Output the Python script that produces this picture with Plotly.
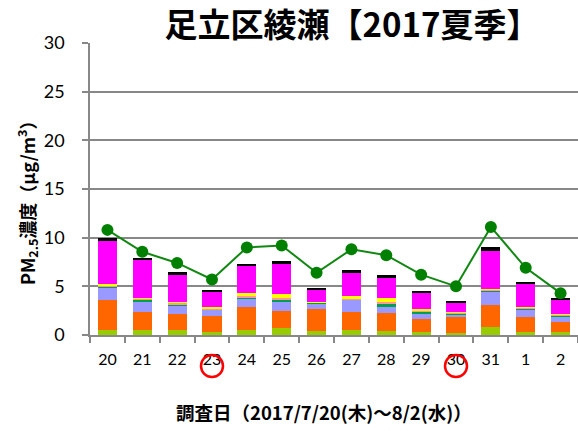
import plotly.graph_objects as go

days = ["20", "21", "22", "23", "24", "25", "26", "27", "28", "29", "30", "31", "1", "2"]

# stacked component values (µg/m3), bottom to top
comp_yellowgreen = [0.55, 0.50, 0.48, 0.34, 0.51, 0.72, 0.41, 0.51, 0.41, 0.31, 0.24, 0.86, 0.34, 0.27]
comp_orange      = [3.05, 1.83, 1.68, 1.65, 2.33, 1.78, 2.30, 1.89, 1.89, 1.30, 1.58, 2.22, 1.48, 1.03]
comp_lavender    = [1.25, 1.16, 0.86, 0.58, 0.89, 0.99, 0.54, 1.20, 0.54, 0.62, 0.30, 1.37, 0.82, 0.58]
comp_green       = [0.10, 0.13, 0.16, 0.07, 0.14, 0.17, 0.05, 0.02, 0.41, 0.17, 0.08, 0.10, 0.08, 0.12]
comp_pink        = [0.10, 0.10, 0.14, 0.08, 0.13, 0.18, 0.05, 0.03, 0.18, 0.10, 0.06, 0.08, 0.08, 0.08]
comp_yellow      = [0.15, 0.08, 0.11, 0.12, 0.35, 0.37, 0.05, 0.39, 0.41, 0.21, 0.10, 0.10, 0.04, 0.08]
comp_magenta     = [4.45, 3.91, 2.74, 1.61, 2.74, 3.16, 1.22, 2.43, 2.09, 1.64, 0.96, 3.94, 2.37, 1.44]
comp_black       = [0.30, 0.24, 0.33, 0.17, 0.21, 0.20, 0.21, 0.17, 0.20, 0.07, 0.21, 0.34, 0.21, 0.13]

# PM2.5 mass concentration (line)
pm25_total = [10.8, 8.55, 7.4, 5.7, 9.0, 9.2, 6.4, 8.8, 8.2, 6.2, 5.0, 11.1, 6.9, 4.3]

# days marked with a red circle under the tick label
marked_days = ["23", "30"]

series = [
    (comp_yellowgreen, "#99CC00"),
    (comp_orange, "#FF6600"),
    (comp_lavender, "#9999FF"),
    (comp_green, "#00A050"),
    (comp_pink, "#FF9999"),
    (comp_yellow, "#FFFF00"),
    (comp_magenta, "#FF00FF"),
    (comp_black, "#000000"),
]

fig = go.Figure()
for vals, col in series:
    fig.add_trace(go.Bar(x=days, y=vals, marker=dict(color=col, line=dict(width=0)),
                         showlegend=False))

fig.add_trace(go.Scatter(x=days, y=pm25_total, mode="lines+markers",
                         line=dict(color="#118811", width=2),
                         marker=dict(color="#008000", size=12),
                         showlegend=False))

W, H = 578, 431
ML, MT, MB = 90, 43, 96
PW, PH = W - ML, H - MT - MB

shapes = []
for d in marked_days:
    shapes.append(dict(type="circle", xref="x", yref="paper",
                       xsizemode="pixel", ysizemode="pixel",
                       xanchor=days.index(d), yanchor=-31 / PH,
                       x0=-11, x1=11, y0=-11, y1=11,
                       line=dict(color="#FF0000", width=2.5)))

font_cjk = "Noto Sans CJK JP"
font_num = "Lato, Noto Sans CJK JP"

fig.update_layout(
    width=W, height=H,
    margin=dict(l=ML, r=0, t=MT, b=MB),
    paper_bgcolor="white", plot_bgcolor="white",
    barmode="stack", bargap=0.45,
    title=dict(text="<b>足立区綾瀬【2017夏季】</b>", font=dict(family=font_cjk, size=33, color="black"),
               xref="container", x=352 / W, xanchor="center",
               yref="container", y=1 - 25 / H, yanchor="middle"),
    xaxis=dict(type="category", range=[-0.5, len(days) - 0.5],
               showgrid=False, showline=True, linecolor="#888888", linewidth=1.5,
               ticks="outside", tickson="boundaries", ticklen=6, tickcolor="#888888", tickwidth=1.5,
               ticklabelstandoff=9,
               tickfont=dict(family=font_num, size=16, color="black")),
    yaxis=dict(range=[0, 30], dtick=5, showgrid=True, gridcolor="#888888", gridwidth=1.5,
               showline=True, linecolor="#888888", linewidth=1.5, zeroline=False,
               ticks="outside", ticklen=6, tickcolor="#888888", tickwidth=1.5,
               ticklabelstandoff=14,
               tickfont=dict(family=font_num, size=18, color="black")),
    shapes=shapes,
    annotations=[
        dict(text="<b>PM<sub>2.5</sub>濃度（μg/m<sup>3</sup>）</b>", textangle=-90,
             xref="paper", yref="paper", x=(27 - ML) / PW, y=0.5 - 10 / PH,
             xanchor="center", yanchor="middle", showarrow=False,
             font=dict(family=font_cjk, size=18, color="black")),
        dict(text="<b>調査日（2017/7/20(木)～8/2(水)）</b>",
             xref="paper", yref="paper", x=(324 - ML) / PW, y=(335 - 412) / PH,
             xanchor="center", yanchor="middle", showarrow=False,
             font=dict(family=font_cjk, size=18.5, color="black")),
    ],
)

fig.write_html("out.html", config={"displayModeBar": False},
               post_script="document.body.style.margin='0';")
